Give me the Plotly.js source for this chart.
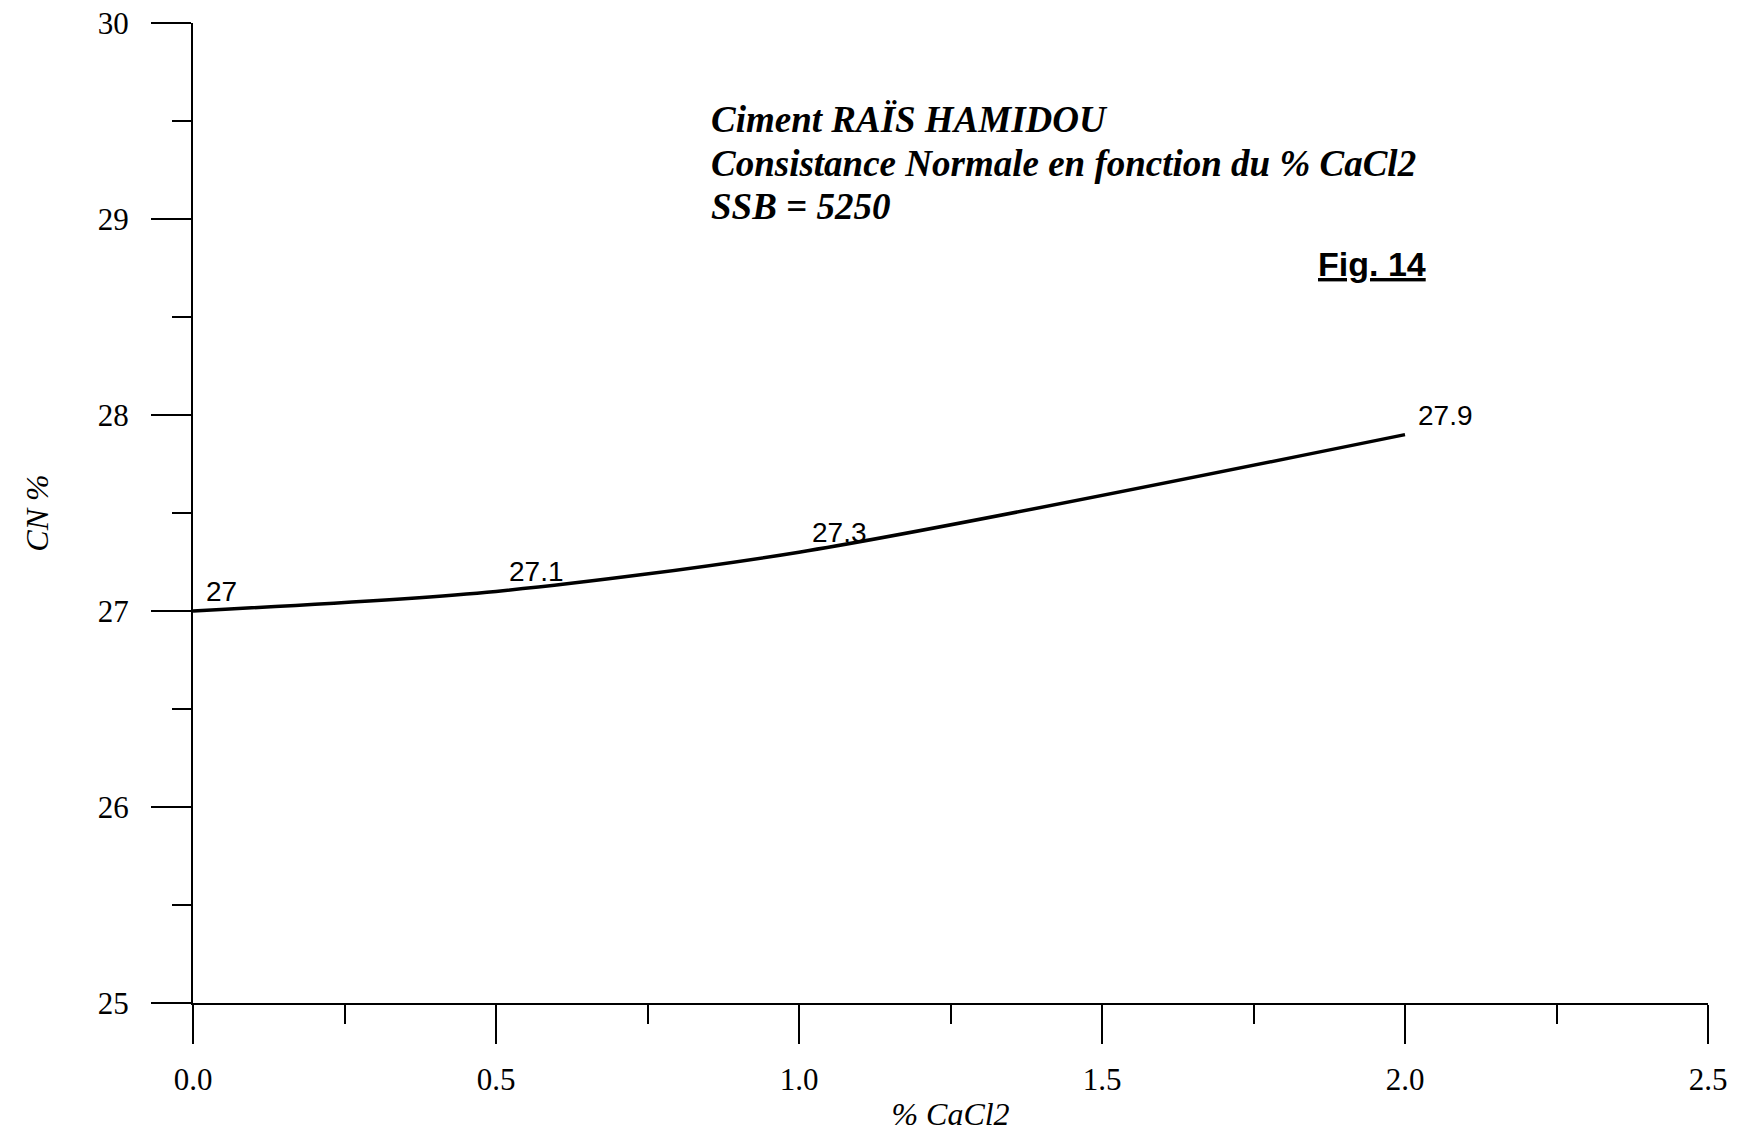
<!DOCTYPE html>
<html>
<head>
<meta charset="utf-8">
<script src="https://cdn.plot.ly/plotly-3.0.1.min.js"></script>
<style>
  html, body { margin: 0; padding: 0; background: #fff; }
  #chart { width: 1739px; height: 1132px; }
</style>
</head>
<body>
<div id="chart"></div>
<script>
// CaCl2 dosage (%) and normal consistency (CN %)
const cacl2 = [0, 0.5, 1.0, 2.0];
const cn = [27, 27.1, 27.3, 27.9];
const pointLabels = ['27', '27.1', '27.3', '27.9'];

const titleLines = [
  'Ciment RAÏS HAMIDOU',
  'Consistance Normale en fonction du % CaCl2',
  'SSB = 5250'
];
const figLabel = 'Fig. 14';
const xTitle = '% CaCl2';
const yTitle = 'CN %';

const serif = 'Liberation Serif, Times New Roman, serif';
const sans = 'Liberation Sans, Arial, sans-serif';

const trace = {
  x: cacl2,
  y: cn,
  type: 'scatter',
  mode: 'lines',
  line: { color: '#000', width: 3.5, shape: 'spline', smoothing: 0.8 },
  hoverinfo: 'x+y',
  showlegend: false
};

const annotations = [];

// value labels beside each point
cacl2.forEach((x, i) => {
  annotations.push({
    x: x, y: cn[i], xref: 'x', yref: 'y',
    text: pointLabels[i],
    showarrow: false,
    xanchor: 'left', yanchor: 'bottom',
    xshift: 11, yshift: 2,
    font: { family: sans, size: 28, color: '#000' }
  });
});

// three-line heading
const titleY = [0.902, 0.857, 0.813];
titleLines.forEach((t, i) => {
  annotations.push({
    x: 0.3406, y: titleY[i], xref: 'paper', yref: 'paper',
    text: '<b><i>' + t + '</i></b>',
    showarrow: false,
    xanchor: 'left', yanchor: 'middle',
    font: { family: serif, size: 37, color: '#000' }
  });
});

annotations.push({
  x: 0.815, y: 0.754, xref: 'paper', yref: 'paper',
  text: '<b>' + figLabel + '</b>',
  showarrow: false,
  xanchor: 'right', yanchor: 'middle',
  font: { family: sans, size: 34, color: '#000', lineposition: 'under' }
});

const layout = {
  width: 1739,
  height: 1132,
  paper_bgcolor: '#fff',
  plot_bgcolor: '#fff',
  margin: { l: 193, r: 31, t: 23, b: 129 },
  showlegend: false,
  xaxis: {
    range: [0, 2.5],
    dtick: 0.5,
    tick0: 0,
    tickformat: '.1f',
    ticks: 'outside',
    ticklen: 39,
    tickwidth: 2,
    tickcolor: '#000',
    minor: { dtick: 0.25, ticks: 'outside', ticklen: 19, tickwidth: 2, tickcolor: '#000' },
    showline: true,
    linecolor: '#000',
    linewidth: 2,
    showgrid: false,
    zeroline: false,
    ticklabelstandoff: 9,
    tickfont: { family: serif, size: 31, color: '#000' },
    title: { text: '<i>' + xTitle + '</i>', font: { family: serif, size: 32, color: '#000' }, standoff: 12 },
    automargin: false
  },
  yaxis: {
    range: [25, 30],
    dtick: 1,
    tick0: 25,
    ticks: 'outside',
    ticklen: 40,
    tickwidth: 2,
    tickcolor: '#000',
    minor: { dtick: 0.5, ticks: 'outside', ticklen: 19, tickwidth: 2, tickcolor: '#000' },
    showline: true,
    linecolor: '#000',
    linewidth: 2,
    showgrid: false,
    zeroline: false,
    ticklabelstandoff: 16,
    tickfont: { family: serif, size: 31, color: '#000' },
    title: { text: '<i>' + yTitle + '</i>', font: { family: serif, size: 32, color: '#000' }, standoff: 40 },
    automargin: false
  },
  annotations: annotations
};

Plotly.newPlot('chart', [trace], layout, { displayModeBar: false, staticPlot: true });
</script>
</body>
</html>
